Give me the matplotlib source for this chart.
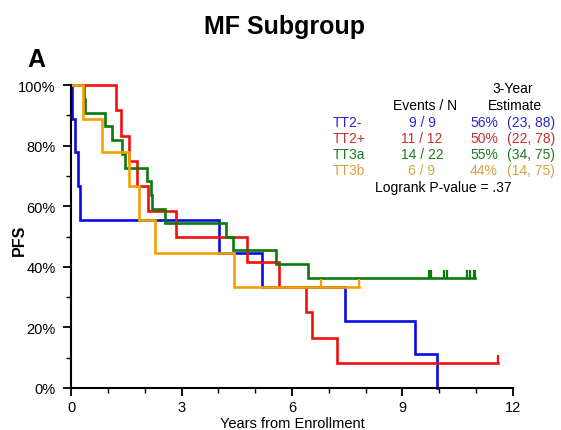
import matplotlib
matplotlib.use("Agg")
import matplotlib.pyplot as plt
import numpy as np
from matplotlib.ticker import MultipleLocator, FuncFormatter

plt.rcParams['font.family'] = ['Liberation Sans', 'DejaVu Sans']

# ---- data: event / censor times (years) per group ----
groups = ["TT2-", "TT2+", "TT3a", "TT3b"]
n_patients = [9, 12, 22, 9]

tt2m_events = [0.03, 0.11, 0.18, 0.24, 4.02, 5.18, 7.44, 9.34, 9.95]
tt2m_censor = []

tt2p_events = [1.21, 1.36, 1.58, 1.78, 2.10, 2.85, 4.78, 5.66, 6.38, 6.54, 7.22]
tt2p_censor = [11.6]

tt3a_events = [0.35, 0.38, 0.91, 1.10, 1.38, 1.47, 2.06, 2.16, 2.21, 2.55,
               4.21, 4.41, 5.57, 6.44]
tt3a_censor = [9.71, 9.78, 10.14, 10.22, 10.75, 10.84, 10.95, 10.98]

tt3b_events = [0.32, 0.83, 1.58, 1.84, 2.28, 4.42]
tt3b_censor = [6.80, 7.83, 7.83]

events_text = ["9 / 9", "11 / 12", "14 / 22", "6 / 9"]
estimate_pct = ["56%", "50%", "55%", "44%"]
estimate_ci = ["(23, 88)", "(22, 78)", "(34, 75)", "(14, 75)"]
logrank_p = ".37"

line_colors = ["#0a0ae6", "#f01010", "#0a7a0a", "#f5a000"]
text_colors = ["#2828d0", "#c83030", "#1f7a1f", "#d8a040"]


def km_curve(events, censor, n):
    """Kaplan-Meier step coordinates plus censor-mark positions."""
    times = sorted(set(events) | set(censor))
    at_risk = n
    s = 1.0
    xs, ys = [0.0], [100.0]
    cens_pts = []
    for t in times:
        d = events.count(t)
        c = censor.count(t)
        if d:
            s *= (at_risk - d) / at_risk
            xs.append(t)
            ys.append(s * 100)
        if c:
            cens_pts.append((t, s * 100))
        at_risk -= d + c
    last = max(times)
    if xs[-1] < last:
        xs.append(last)
        ys.append(s * 100)
    return xs, ys, cens_pts


W, H = 561, 431
fig = plt.figure(figsize=(W / 100, H / 100), dpi=100)
ax = fig.add_axes([71 / W, 1 - 389 / H, (513 - 71) / W, (389 - 86) / H])

data = [(tt2m_events, tt2m_censor), (tt2p_events, tt2p_censor),
        (tt3a_events, tt3a_censor), (tt3b_events, tt3b_censor)]

for (ev, ce), n, col in zip(data, n_patients, line_colors):
    xs, ys, cp = km_curve(ev, ce, n)
    ax.plot(xs, ys, drawstyle="steps-post", color=col, lw=1.9,
            clip_on=False, solid_joinstyle="miter")
    if cp:
        cx = [p[0] for p in cp]
        cy = [p[1] for p in cp]
        ax.plot(cx, cy, linestyle="none", marker=2, markersize=6,
                markeredgewidth=1.6, color=col, clip_on=False)

ax.set_xlim(0, 12)
ax.set_ylim(0, 100)
for side in ("top", "right"):
    ax.spines[side].set_visible(False)
for side in ("left", "bottom"):
    ax.spines[side].set_linewidth(1.5)

ax.xaxis.set_major_locator(MultipleLocator(3))
ax.xaxis.set_minor_locator(MultipleLocator(1))
ax.yaxis.set_major_locator(MultipleLocator(20))
ax.yaxis.set_minor_locator(MultipleLocator(10))
ax.yaxis.set_major_formatter(FuncFormatter(lambda v, p: f"{int(v)}%"))
ax.tick_params(which="major", length=6, width=1.3, labelsize=10.5, pad=3)
ax.tick_params(which="minor", length=3.5, width=1.0)
ax.tick_params(axis="y", which="major", pad=5)

ax.set_xlabel("Years from Enrollment", fontsize=10.5, labelpad=1)
fig.text(19 / W, 1 - 240 / H, "PFS", fontsize=11.5, fontweight="bold",
         rotation=90, ha="center", va="center")

fig.text(285 / W, 1 - 34 / H, "MF Subgroup", fontsize=18, fontweight="bold",
         ha="center", va="baseline")
fig.text(27 / W, 1 - 67 / H, "A", fontsize=18, fontweight="bold",
         ha="left", va="baseline")

# ---- summary table ----
fs = 10


def ft(x, y, s, **kw):
    fig.text(x / W, 1 - y / H, s, fontsize=fs, va="center", **kw)


ft(513, 89, "3-Year", ha="center")
ft(515, 106, "Estimate", ha="center")
ft(425, 106, "Events / N", ha="center")
row_y = [123, 139, 155, 171]
for g, ev, pct, ci, col, y in zip(groups, events_text, estimate_pct,
                                   estimate_ci, text_colors, row_y):
    ft(333, y, g, ha="left", color=col)
    ft(422, y, ev, ha="center", color=col)
    ft(498, y, pct, ha="right", color=col)
    ft(507, y, ci, ha="left", color=col)
ft(375, 188, f"Logrank P-value = {logrank_p}", ha="left")

fig.savefig("out.png", dpi=100)
